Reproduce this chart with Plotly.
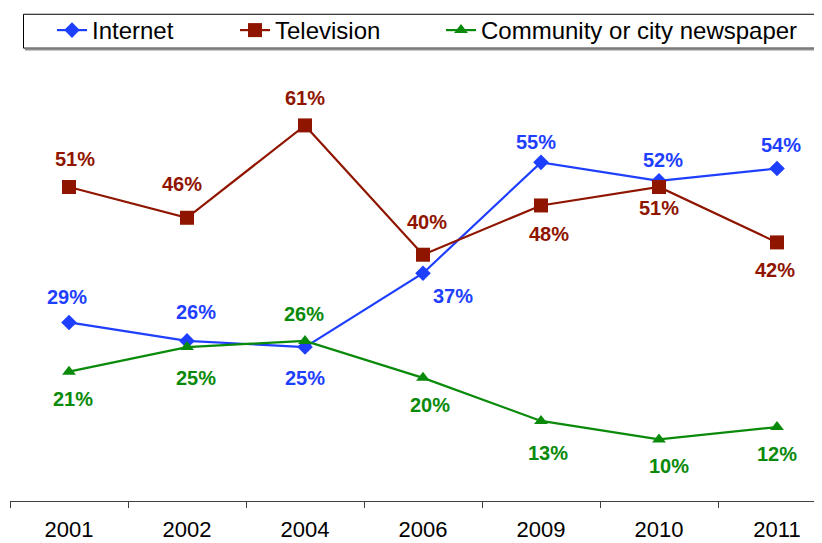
import plotly.graph_objects as go

years = ["2001", "2002", "2004", "2006", "2009", "2010", "2011"]
internet = [29, 26, 25, 37, 55, 52, 54]
television = [51, 46, 61, 40, 48, 51, 42]
newspaper = [21, 25, 26, 20, 13, 10, 12]

series_names = ["Internet", "Television", "Community or city newspaper"]

# styling
colors = ["#1f3fff", "#8f1500", "#0a8a0a"]
symbols = ["diamond", "square", "triangle-up"]
msizes = [12, 14, 12]
# label pixel offsets (dx, dy-up) per point
label_offsets = [
    [(-2, 25), (9, 29), (0, -31), (30, -23), (-5, 20), (4, 21), (4, 24)],
    [(6, 28), (-5, 34), (0, 27), (4, 33), (8, -29), (0, -21), (-2, -28)],
    [(4, -27), (9, -31), (-1, 27), (7, -27), (7, -32), (10, -27), (0, -27)],
]

# page body offset in the browser
OFF = 8
W, H = 822 - OFF, 543 - OFF
ml, mr, mt, mb = 10 - OFF, 0, 68 - OFF, 42
pw = W - ml - mr
ph = H - mt - mb
spacing = 118.0

def ref_x(px):
    return (px - OFF - ml) / pw

def ref_y(py):
    return (H - mb - (py - OFF)) / ph

legend_px = [52, 235, 441]

fig = go.Figure()
all_values = [internet, television, newspaper]
legend_ids = ["legend", "legend2", "legend3"]
for i, (name, vals) in enumerate(zip(series_names, all_values)):
    fig.add_trace(go.Scatter(
        x=years, y=vals, name=name, mode="lines+markers",
        line=dict(color=colors[i], width=2.2),
        marker=dict(symbol=symbols[i], size=msizes[i], color=colors[i]),
        legend=legend_ids[i], hoverinfo="skip",
    ))
    for j, v in enumerate(vals):
        dx, dy = label_offsets[i][j]
        fig.add_annotation(
            x=j, y=v, xref="x", yref="y", text=f"{v}%", showarrow=False,
            xshift=dx, yshift=dy,
            font=dict(family="Liberation Sans, Arial, sans-serif", size=20,
                      color=colors[i], weight="bold"),
        )

legend_font = dict(family="Liberation Sans, Arial, sans-serif", size=24, color="#000000")
leg_common = dict(orientation="h", xanchor="left", yanchor="middle",
                  y=ref_y(28), bgcolor="rgba(0,0,0,0)", borderwidth=0,
                  font=legend_font, itemwidth=30)

fig.update_layout(
    width=W, height=H,
    margin=dict(l=ml, r=mr, t=mt, b=mb),
    paper_bgcolor="white", plot_bgcolor="white",
    showlegend=True,
    legend=dict(x=ref_x(legend_px[0]), **leg_common),
    legend2=dict(x=ref_x(legend_px[1]), **leg_common),
    legend3=dict(x=ref_x(legend_px[2]), **leg_common),
    xaxis=dict(
        type="category", range=[-0.5, -0.5 + pw / spacing],
        showline=True, linecolor="#404040", linewidth=1.2,
        ticks="outside", tickson="boundaries", ticklen=6, tickcolor="#404040",
        tickwidth=1, showgrid=False, zeroline=False,
        tickfont=dict(family="Liberation Sans, Arial, sans-serif", size=22, color="#000000"),
        ticklabelstandoff=8,
    ),
    yaxis=dict(range=[0, 70], visible=False, showgrid=False, zeroline=False),
    shapes=[
        dict(type="line", xref="paper", yref="paper",
             x0=ref_x(25), x1=1.05, y0=ref_y(47.5), y1=ref_y(47.5),
             line=dict(color="#909090", width=2)),
        dict(type="rect", xref="paper", yref="paper",
             x0=ref_x(23.5), x1=1.05, y0=ref_y(46), y1=ref_y(12),
             line=dict(color="#000000", width=1), fillcolor="rgba(0,0,0,0)", layer="below"),
    ],
)

fig.write_html("out.html")
